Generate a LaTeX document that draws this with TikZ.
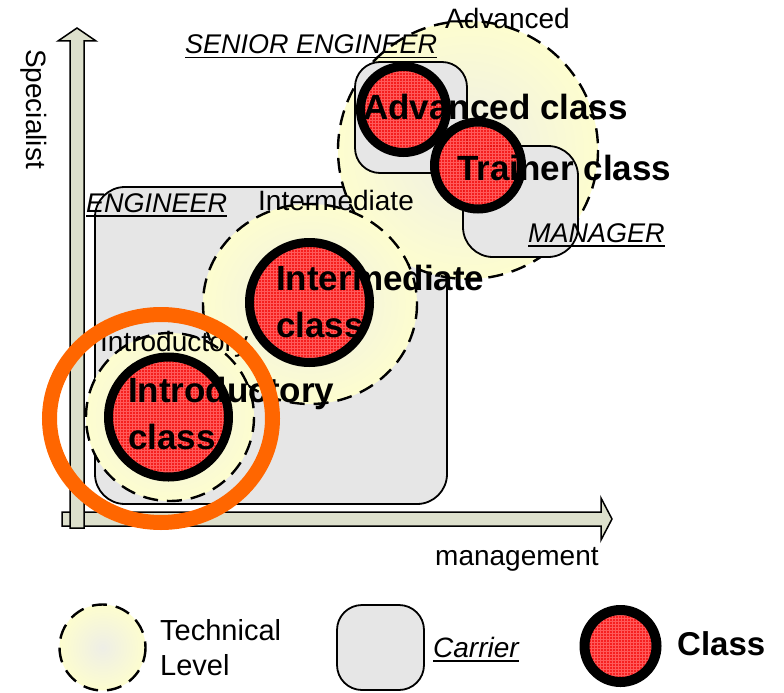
\documentclass[tikz,border=0pt]{standalone}
\usepackage{fontspec}
\setmainfont{Liberation Sans}
\usetikzlibrary{patterns}
\definecolor{axisfill}{RGB}{221,224,204}
\definecolor{carrierfill}{RGB}{230,230,230}
\definecolor{levelfill}{RGB}{255,255,204}
\definecolor{levelmid}{RGB}{238,238,230}
\definecolor{classred}{RGB}{245,20,20}
\definecolor{classgrid}{RGB}{255,90,90}
\definecolor{ringorange}{RGB}{255,102,0}
\pgfdeclareradialshading{levelshade}{\pgfpoint{0bp}{0bp}}{color(0bp)=(levelmid); color(28bp)=(levelfill); color(50bp)=(levelfill)}
\newcommand\careerul[1]{\setbox0\hbox{#1}\rlap{\rule[-4.5pt]{\wd0}{1.6pt}}\box0}

\begin{document}
\begin{tikzpicture}[x=1pt,y=-1pt,
    carrier/.style={draw, line width=1.8pt, fill=carrierfill},
    level/.style={draw, line width=2.4pt, dash pattern=on 15pt off 9pt, shade, shading=levelshade},
    classdot/.style={draw, line width=9pt, preaction={fill=classred, fill opacity=.95}, preaction={pattern=grid, pattern color=classgrid}},
    axis/.style={draw, line width=1.5pt, fill=axisfill},
    lbl/.style={font=\fontsize{28}{34}\selectfont, inner sep=0pt, anchor=base west},
    career/.style={font=\fontsize{27}{32}\selectfont\itshape, inner sep=0pt, anchor=base west},
    cls/.style={font=\fontsize{35}{47}\selectfont\bfseries, inner sep=0pt, align=left, anchor=base west}]
    \useasboundingbox (0,0) rectangle (784,693);

    \path [axis] (62,512)--(601,512)--(601,498)--(612,519)--(601,540)--(601,526)--(62,526)--cycle;
    \path [axis] (70,528)--(70,41)--(58,41)--(77,28)--(96,41)--(84,41)--(84,528)--cycle;

    \draw [carrier, rounded corners=30pt] (95,187) rectangle (447,504);
    \path [level] (468,150) ellipse [x radius=130, y radius=129];
    \path [level] (310,304) ellipse [x radius=107, y radius=100];
    \path [level] (170,417) circle [radius=84];
    \draw [carrier, rounded corners=25pt] (355,62) rectangle (467,173);
    \draw [carrier, rounded corners=30pt] (463,146) rectangle (578,257);

    \path [classdot] (168.5,417) circle [radius=60];
    \path [classdot] (309.5,302.5) circle [radius=60];
    \path [classdot] (403.5,109.5) circle [radius=43];
    \path [classdot] (478,165.5) circle [radius=43.5];

    \node [lbl, rotate=-90, anchor=center] (specialist) at (34,109) {Specialist};
    \node [lbl] (management) at (435,565) {management};
    \node [career] (senior) at (185,54) {\careerul{SENIOR ENGINEER}};
    \node [career] (engineer) at (86,212) {\careerul{ENGINEER}};
    \node [career] (manager) at (528,242) {\careerul{MANAGER}};
    \node [lbl] (advlevel) at (445,29) {Advanced};
    \node [lbl] (intlevel) at (258,210) {Intermediate};
    \node [lbl] (introlevel) at (100,351) {Introductory};

    \node [cls] (advclass) at (363,119) {Advanced class};
    \node [cls] (trainclass) at (457,180) {Trainer class};
    \node [cls, anchor=north west] (intclass) at (276,264.5) {Intermediate\\class};
    \node [cls, anchor=north west] (introclass) at (128,376.5) {Introductory\\class};

    \draw [ringorange, line width=15pt] (161,418.5) ellipse [x radius=111.5, y radius=104];

    \path [level] (102.5,647.5) circle [radius=43];
    \node [lbl, align=left, anchor=north west, font=\fontsize{29}{35}\selectfont] (techlevel) at (160,619) {Technical\\Level};
    \draw [carrier, rounded corners=25pt] (337,605) rectangle (424,690);
    \node [career, font=\fontsize{28}{32}\selectfont\itshape] (carrierlbl) at (433,657) {\careerul{Carrier}};
    \path [classdot, line width=10pt] (620.5,646) circle [radius=36];
    \node [cls, font=\fontsize{33}{40}\selectfont\bfseries] (classlbl) at (677,655) {Class};
\end{tikzpicture}
\end{document}
